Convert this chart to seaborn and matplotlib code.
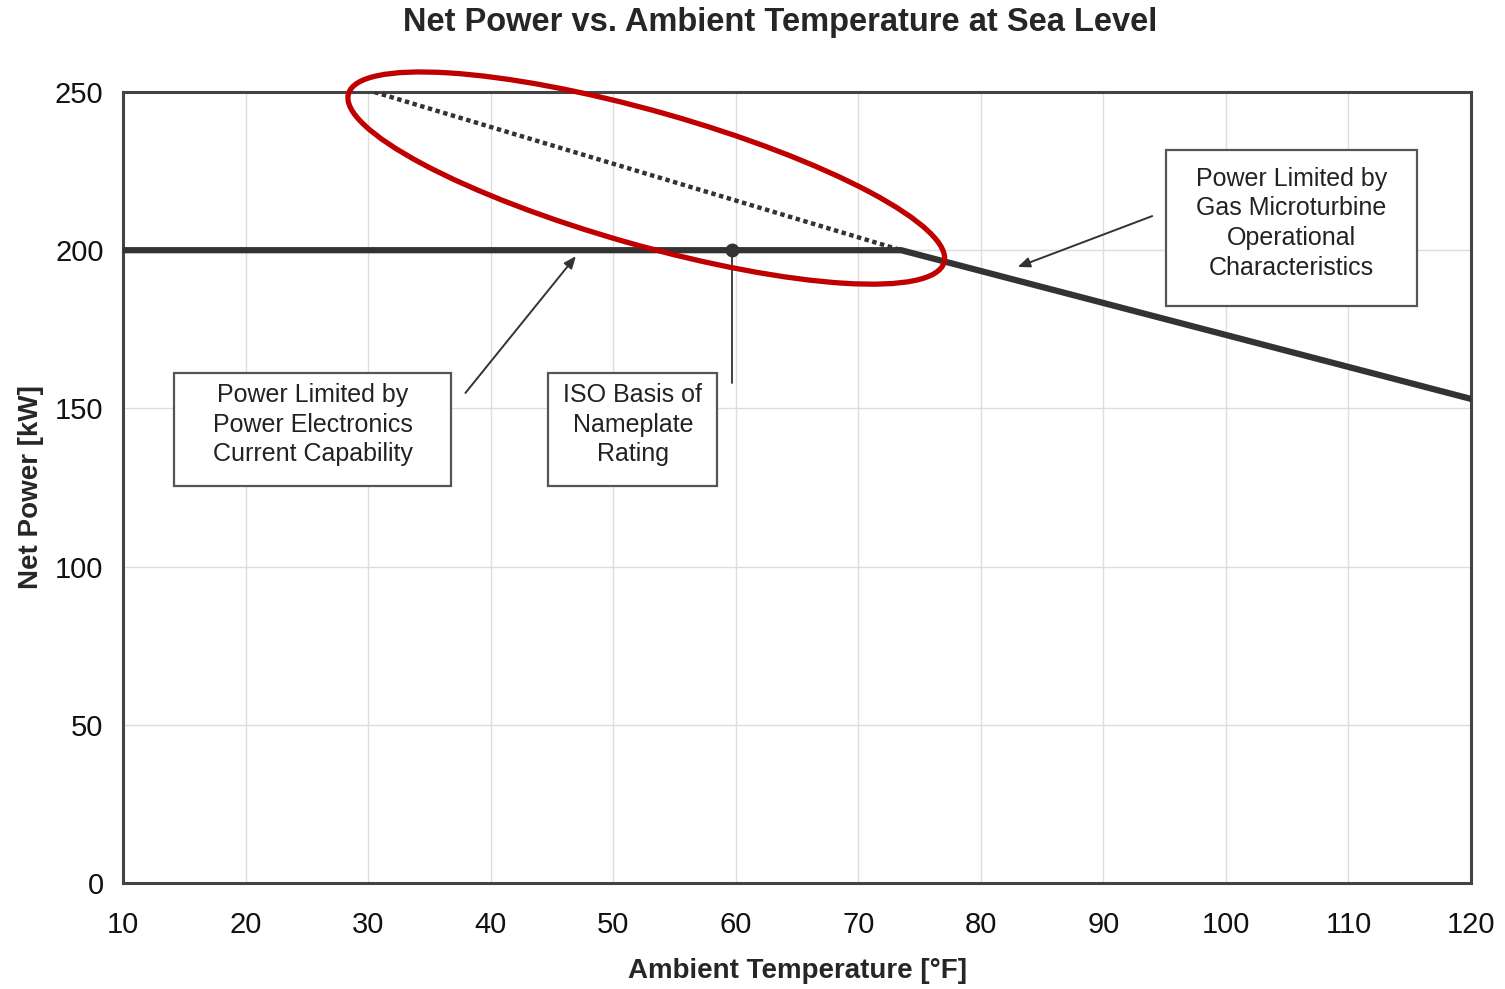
import numpy as np
import pandas as pd
import matplotlib
matplotlib.use("Agg")
import matplotlib.pyplot as plt
import matplotlib.transforms as mtransforms
from matplotlib.patches import Ellipse, Rectangle
from matplotlib.ticker import MultipleLocator
import seaborn as sns

# Data
temp_actual = [10, 73.5, 120]
power_actual = [200, 200, 153]
temp_turbine = [30.5, 73.5]
power_turbine = [250, 200]
iso_temp = [59.7]
iso_power = [200]

x_ticks = [10, 20, 30, 40, 50, 60, 70, 80, 90, 100, 110, 120]
y_ticks = [0, 50, 100, 150, 200, 250]

df_actual = pd.DataFrame({"temp": temp_actual, "power": power_actual})
df_turbine = pd.DataFrame({"temp": temp_turbine, "power": power_turbine})

sns.set_theme(style="whitegrid")
plt.rcParams["font.family"] = ["Liberation Sans", "DejaVu Sans"]

dark = "#333333"
fig = plt.figure(figsize=(15.05, 9.89), dpi=100)
ax = fig.add_axes([123 / 1505, 1 - 883 / 989, (1471 - 123) / 1505, (883 - 92) / 989])

# dotted turbine-only curve and the actual (limited) curve
sns.lineplot(data=df_turbine, x="temp", y="power", ax=ax, color=dark,
             linestyle=(0, (1, 0.8)), linewidth=3.2, zorder=3)
sns.lineplot(data=df_actual, x="temp", y="power", ax=ax, color=dark,
             linewidth=4.5, zorder=4, solid_joinstyle="miter")
ax.plot(iso_temp, iso_power, "o", color=dark, markersize=9, zorder=5)

ax.set_xlim(10, 120)
ax.set_ylim(0, 250)
ax.set_xticks(x_ticks)
ax.set_yticks(y_ticks)
ax.xaxis.set_minor_locator(MultipleLocator(2))
ax.yaxis.set_minor_locator(MultipleLocator(10))
ax.tick_params(axis="both", which="both", direction="in", color="#999999",
               labelsize=21, labelcolor="#111111")
ax.tick_params(axis="both", which="major", length=6, width=1)
ax.tick_params(axis="both", which="minor", length=5, width=0.8)
ax.tick_params(axis="x", which="major", pad=20)
ax.tick_params(axis="y", which="major", pad=14)
ax.grid(True, which="major", color="#dddddd", linewidth=1)
ax.set_facecolor("white")
for sp in ax.spines.values():
    sp.set_color("#444444")
    sp.set_linewidth(2.2)

ax.set_xlabel("Ambient Temperature [°F]", fontsize=20, fontweight="bold", labelpad=14)
ax.set_ylabel("Net Power [kW]", fontsize=20, fontweight="bold", labelpad=8)
fig.text(780 / 1505, 1 - 23 / 989, "Net Power vs. Ambient Temperature at Sea Level",
         ha="center", va="center", fontsize=23.5, fontweight="bold")

# annotation boxes: (x0, x1, y0, y1, text)
boxes = [
    (14.2, 36.8, 125.5, 161.2, "Power Limited by\nPower Electronics\nCurrent Capability"),
    (44.7, 58.5, 125.5, 161.2, "ISO Basis of\nNameplate\nRating"),
    (95.1, 115.6, 182.4, 231.7, "Power Limited by\nGas Microturbine\nOperational\nCharacteristics"),
]
for x0, x1, y0, y1, label in boxes:
    ax.add_patch(Rectangle((x0, y0), x1 - x0, y1 - y0, facecolor="white",
                           edgecolor="#555555", linewidth=1.6, zorder=6))
    ax.text((x0 + x1) / 2, (y0 + y1) / 2 + 1.5, label, ha="center", va="center",
            fontsize=18, color="#222222", linespacing=1.3, zorder=7)

arrow_kw = dict(arrowstyle="-|>,head_length=0.6,head_width=0.25", color=dark, lw=1.4)
ax.annotate("", xy=(47.1, 198.8), xytext=(37.8, 154.2), arrowprops=arrow_kw, zorder=6)
ax.annotate("", xy=(82.8, 194.4), xytext=(94.2, 211.1), arrowprops=arrow_kw, zorder=6)
ax.plot([iso_temp[0], iso_temp[0]], [158, iso_power[0]], color=dark, lw=1.3, zorder=4)

# red highlight ellipse (drawn in pixel space so it stays a true ellipse)
cx, cy = ax.transData.transform((52.7, 222.8))
fig.add_artist(Ellipse((cx, cy), width=619, height=134, angle=-15.8,
                       transform=mtransforms.IdentityTransform(),
                       fill=False, edgecolor="#c00000", linewidth=3.8, zorder=10))

fig.savefig("out.png", dpi=100)
